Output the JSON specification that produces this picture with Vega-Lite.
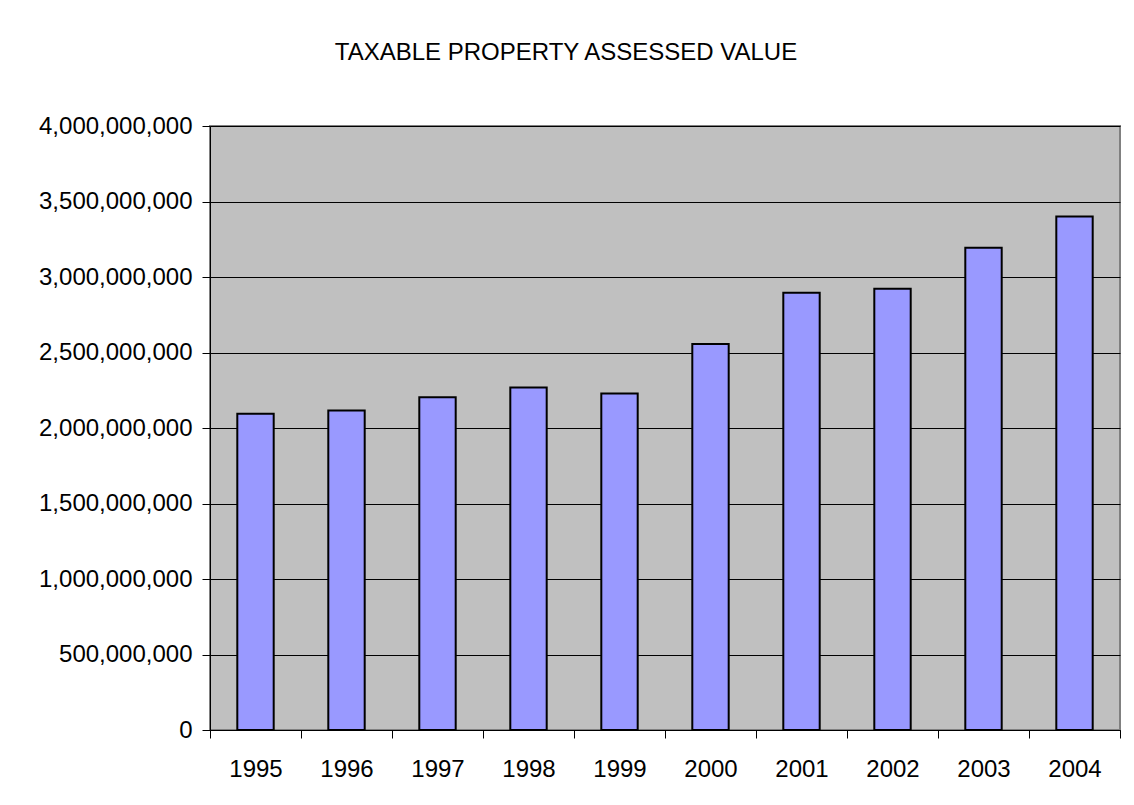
{
  "$schema": "https://vega.github.io/schema/vega-lite/v6.json",
  "autosize": "none",
  "width": 910,
  "height": 604,
  "padding": {"left": 210, "top": 126, "right": 14, "bottom": 75},
  "background": "white",
  "title": {
    "text": "TAXABLE PROPERTY ASSESSED VALUE",
    "font": "Liberation Sans",
    "fontSize": 24,
    "fontWeight": "normal",
    "color": "black",
    "anchor": "middle",
    "frame": "group",
    "dx": -99,
    "offset": 49
  },
  "data": {
    "values": [
      {"year": "1995", "value": 2095000000},
      {"year": "1996", "value": 2116000000},
      {"year": "1997", "value": 2204000000},
      {"year": "1998", "value": 2268000000},
      {"year": "1999", "value": 2229000000},
      {"year": "2000", "value": 2557000000},
      {"year": "2001", "value": 2895000000},
      {"year": "2002", "value": 2923000000},
      {"year": "2003", "value": 3194000000},
      {"year": "2004", "value": 3401000000}
    ]
  },
  "mark": {"type": "bar", "width": {"band": 0.4}, "fill": "#9999FF", "stroke": "black", "strokeWidth": 2},
  "encoding": {
    "x": {
      "field": "year",
      "type": "ordinal",
      "scale": {"paddingInner": 0, "paddingOuter": 0},
      "axis": {
        "title": null,
        "labelAngle": 0,
        "labelFont": "Liberation Sans",
        "labelFontSize": 24,
        "labelColor": "black",
        "labelPadding": 19,
        "tickBand": "extent",
        "tickSize": 8,
        "tickColor": "black",
        "domainColor": "black",
        "grid": false
      }
    },
    "y": {
      "field": "value",
      "type": "quantitative",
      "scale": {"domain": [0, 4000000000], "nice": false},
      "axis": {
        "title": null,
        "values": [0, 500000000, 1000000000, 1500000000, 2000000000, 2500000000, 3000000000, 3500000000, 4000000000],
        "format": ",d",
        "labelFont": "Liberation Sans",
        "labelFontSize": 24,
        "labelColor": "black",
        "labelPadding": 10,
        "tickSize": 8,
        "tickColor": "black",
        "domainColor": "black",
        "grid": true,
        "gridColor": "black",
        "gridOpacity": 1,
        "gridWidth": 1
      }
    }
  },
  "config": {
    "view": {"fill": "#C0C0C0", "stroke": "#808080", "strokeWidth": 2}
  }
}
